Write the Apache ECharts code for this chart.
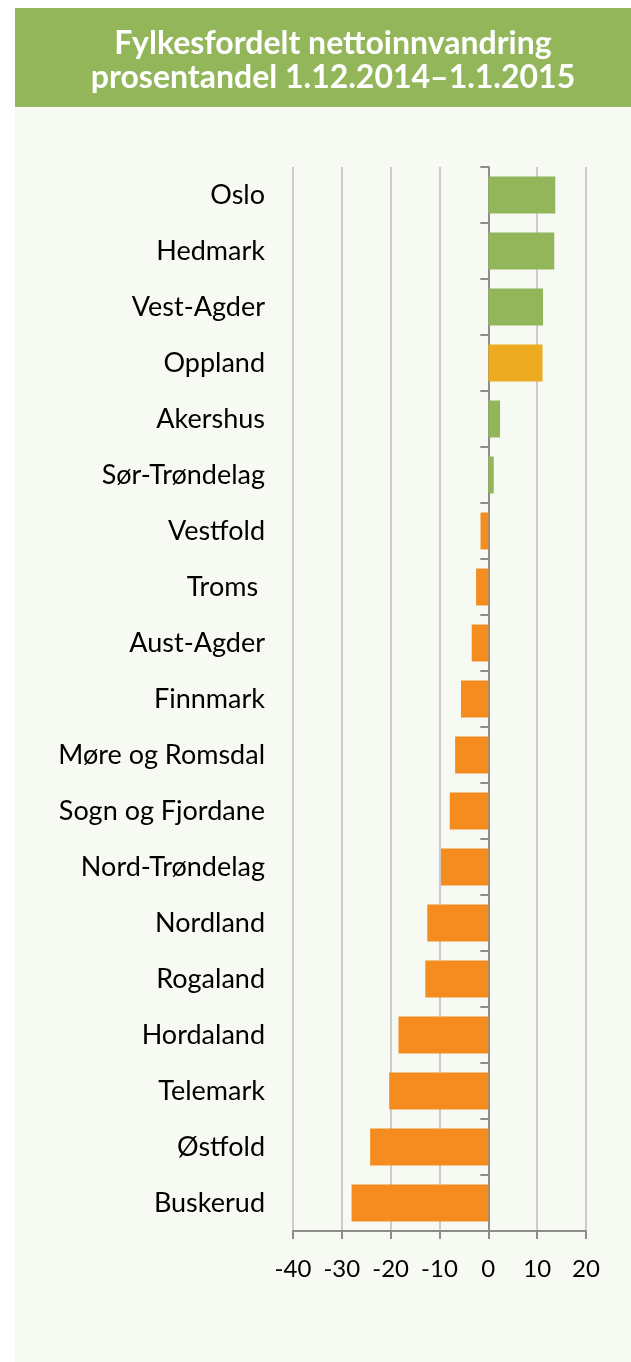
<!DOCTYPE html>
<html lang="no">

<head>
    <meta charset="UTF-8">
    <title>Fylkesfordelt nettoinnvandring</title>
    <script src="https://cdn.jsdelivr.net/npm/echarts@6/dist/echarts.min.js"></script>
    <style>
        html, body { margin: 0; padding: 0; background: #fff; }
        #chart { width: 631px; height: 1362px; }
    </style>
</head>

<body>
    <div id="chart"></div>

    <script>
        // fylker, ovenfra og ned
        var fylker = ['Oslo', 'Hedmark', 'Vest-Agder', 'Oppland', 'Akershus', 'Sør-Trøndelag',
            'Vestfold', 'Troms ', 'Aust-Agder', 'Finnmark', 'Møre og Romsdal', 'Sogn og Fjordane',
            'Nord-Trøndelag', 'Nordland', 'Rogaland', 'Hordaland', 'Telemark', 'Østfold', 'Buskerud'];
        // prosentandel
        var andel = [13.7, 13.5, 11.2, 11.1, 2.4, 1.1,
            -1.6, -2.5, -3.4, -5.6, -6.8, -7.9,
            -9.7, -12.5, -12.9, -18.4, -20.3, -24.2, -28.0];
        var xTicks = [-40, -30, -20, -10, 0, 10, 20];
        var markert = 'Oppland';

        var tittel = 'Fylkesfordelt nettoinnvandring\nprosentandel 1.12.2014–1.1.2015';
        var font = 'Lato, "Open Sans", sans-serif';

        var myChart = echarts.init(document.getElementById('chart'));

        var barData = andel.map(function (v, i) {
            var c = v >= 0 ? '#93b65a' : '#f48c20';
            if (fylker[i] === markert) c = '#ecab21';
            return { value: v, itemStyle: { color: c } };
        });

        var option = {
            backgroundColor: '#ffffff',
            animation: false,
            graphic: [
                { type: 'rect', z: -10, shape: { x: 15, y: 8, width: 616, height: 1354 }, style: { fill: '#f7f9f3' } },
                { type: 'rect', z: -9, shape: { x: 15, y: 8, width: 616, height: 99 }, style: { fill: '#93b65a' } },
                {
                    type: 'text', x: 333, y: 61, z: 10,
                    style: {
                        text: tittel, fill: '#ffffff', font: 'bold 32px ' + font,
                        align: 'center', verticalAlign: 'middle', lineHeight: 34
                    }
                }
            ],
            grid: { left: 293, right: 45, top: 167, bottom: 131 },
            xAxis: {
                type: 'value',
                min: xTicks[0],
                max: xTicks[xTicks.length - 1],
                interval: 10,
                axisLine: { show: true, onZero: false, lineStyle: { color: '#8c8c8c', width: 2 } },
                axisTick: { show: true, length: 8, lineStyle: { color: '#8c8c8c', width: 2 } },
                splitLine: { show: true, lineStyle: { color: '#cccccc', width: 2 } },
                axisLabel: { color: '#000', fontSize: 24, fontFamily: font, margin: 26 }
            },
            yAxis: [
                {
                    type: 'category',
                    data: fylker,
                    inverse: true,
                    position: 'left',
                    axisLine: { show: false, onZero: false },
                    axisTick: { show: false },
                    axisLabel: { color: '#000', fontSize: 27, fontFamily: font, margin: 28 }
                },
                {
                    type: 'category',
                    data: fylker,
                    inverse: true,
                    position: 'left',
                    axisLine: { show: true, onZero: true, lineStyle: { color: '#8c8c8c', width: 2 } },
                    axisTick: { show: true, length: 8, lineStyle: { color: '#8c8c8c', width: 2 } },
                    axisLabel: { show: false }
                }
            ],
            series: [
                {
                    type: 'bar',
                    yAxisIndex: 0,
                    barCategoryGap: '34%',
                    data: barData
                }
            ]
        };
        myChart.setOption(option);
    </script>
</body>

</html>
